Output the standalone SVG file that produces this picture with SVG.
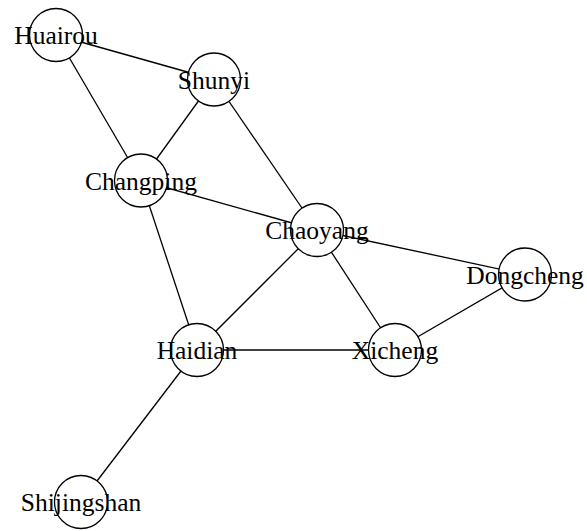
<svg xmlns="http://www.w3.org/2000/svg" width="587" height="531" viewBox="0 0 587 531">
  <style>
    .edge { stroke: #000; stroke-width: 1.3; fill: none; }
    .node circle { fill: #fff; stroke: #000; stroke-width: 1.3; }
    .node text { font-family: "Liberation Serif", "Times New Roman", serif; font-size: 25.5px; fill: #000; text-anchor: middle; }
  </style>
  <rect width="587" height="531" fill="#fff"/>
  <g id="edges">
    <line class="edge" x1="56" y1="35" x2="214" y2="79.5"/>
    <line class="edge" x1="56" y1="35" x2="141" y2="180.5"/>
    <line class="edge" x1="214" y1="79.5" x2="141" y2="180.5"/>
    <line class="edge" x1="214" y1="79.5" x2="317" y2="230"/>
    <line class="edge" x1="141" y1="180.5" x2="317" y2="230"/>
    <line class="edge" x1="141" y1="180.5" x2="197" y2="350"/>
    <line class="edge" x1="317" y1="230" x2="525" y2="274.5"/>
    <line class="edge" x1="317" y1="230" x2="197" y2="350"/>
    <line class="edge" x1="317" y1="230" x2="395" y2="350"/>
    <line class="edge" x1="525" y1="274.5" x2="395" y2="350"/>
    <line class="edge" x1="197" y1="350" x2="395" y2="350"/>
    <line class="edge" x1="197" y1="350" x2="81" y2="502"/>
  </g>
  <g id="Huairou" class="node"><circle cx="56" cy="35" r="26.5"/><text x="56" y="44">Huairou</text></g>
  <g id="Shunyi" class="node"><circle cx="214" cy="79.5" r="26.5"/><text x="214" y="88.5">Shunyi</text></g>
  <g id="Changping" class="node"><circle cx="141" cy="180.5" r="26.5"/><text x="141" y="189.5">Changping</text></g>
  <g id="Chaoyang" class="node"><circle cx="317" cy="230" r="26.5"/><text x="317" y="239">Chaoyang</text></g>
  <g id="Dongcheng" class="node"><circle cx="525" cy="274.5" r="26.5"/><text x="525" y="283.5">Dongcheng</text></g>
  <g id="Haidian" class="node"><circle cx="197" cy="350" r="26.5"/><text x="197" y="359">Haidian</text></g>
  <g id="Xicheng" class="node"><circle cx="395" cy="350" r="26.5"/><text x="395" y="359">Xicheng</text></g>
  <g id="Shijingshan" class="node"><circle cx="81" cy="502" r="26.5"/><text x="81" y="511">Shijingshan</text></g>
</svg>
